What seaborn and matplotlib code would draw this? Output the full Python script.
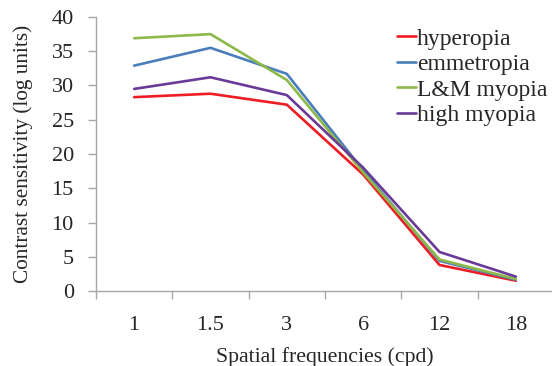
import pandas as pd
import matplotlib.pyplot as plt
import seaborn as sns
from matplotlib.ticker import FixedLocator

# Values
freqs = ['1', '1.5', '3', '6', '12', '18']
hyperopia = [28.3, 28.8, 27.2, 17.0, 3.8, 1.5]
emmetropia = [32.9, 35.5, 31.7, 17.6, 4.4, 1.65]
lm_myopia = [36.9, 37.5, 30.8, 17.3, 4.6, 1.75]
high_myopia = [29.5, 31.2, 28.6, 18.0, 5.7, 2.1]

groups = ['hyperopia', 'emmetropia', 'L&M myopia', 'high myopia']
colors = ['#ee1d23', '#4a7ebb', '#8db84a', '#6a3a98']

rows = []
for name, vals in zip(groups, [hyperopia, emmetropia, lm_myopia, high_myopia]):
    for i, v in enumerate(vals):
        rows.append({'pos': i, 'freq': freqs[i], 'group': name, 'cs': v})
data = pd.DataFrame(rows)

sns.set_style('white')
plt.rcParams['font.family'] = ['Liberation Serif', 'DejaVu Serif']

fig = plt.figure(figsize=(5.52, 3.66), dpi=100)
ax = fig.add_axes([96 / 552, 75 / 366, 458 / 552, 274 / 366])

sns.lineplot(data=data, x='pos', y='cs', hue='group', hue_order=groups,
             palette=colors, linewidth=1.9, sort=False, ax=ax)

ax.set_xlim(-0.5, 5.5)
ax.set_ylim(0, 40)
ax.set_yticks(range(0, 41, 5))
ax.set_xticks(range(len(freqs)))
ax.set_xticklabels(freqs)
ax.xaxis.set_minor_locator(FixedLocator([i - 0.5 for i in range(len(freqs) + 1)]))

for side in ['top', 'right']:
    ax.spines[side].set_visible(False)
for side in ['left', 'bottom']:
    ax.spines[side].set_color('#a6a6a6')
    ax.spines[side].set_linewidth(1.0)

ax.tick_params(axis='x', which='major', length=0, pad=18, labelsize=16)
ax.tick_params(axis='x', which='minor', bottom=True, length=6, width=1.0,
               color='#a6a6a6', direction='out')
ax.tick_params(axis='y', left=True, length=6, width=1.0, color='#a6a6a6',
               direction='out', pad=10, labelsize=16)

ax.set_xlabel('Spatial frequencies (cpd)', fontsize=15.7, labelpad=9)
ax.set_ylabel('Contrast sensitivity (log units)', fontsize=15.3, labelpad=13)

leg = ax.legend(loc='upper left', bbox_to_anchor=(397 / 552, 1 - 28 / 366),
                bbox_transform=fig.transFigure, frameon=False, fontsize=17,
                handlelength=0.8, handletextpad=0.05, labelspacing=0.17,
                borderpad=0, borderaxespad=0)
for line in leg.get_lines():
    line.set_linewidth(1.9)

fig.savefig('out.png', dpi=100)
